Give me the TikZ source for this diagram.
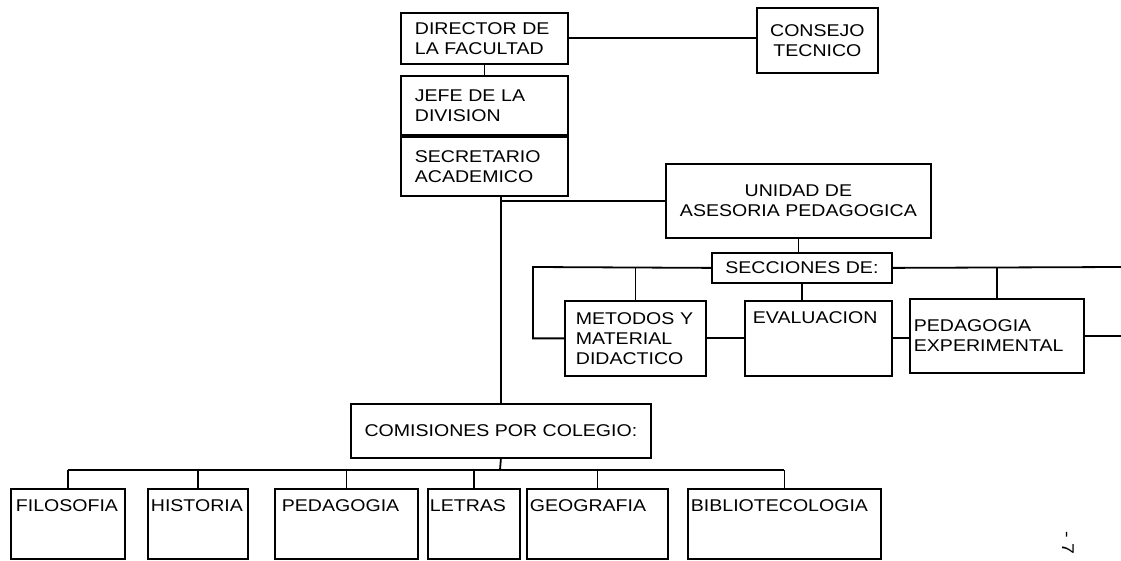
\documentclass[tikz,border=0pt]{standalone}
\usepackage{fontspec}
\setmainfont{Liberation Sans}[FakeStretch=1.15]

\begin{document}
\begin{tikzpicture}[x=0.5pt, y=-0.5pt, line width=0.9pt,
    box/.style={draw, anchor=north west, inner ysep=1pt, font=\fontsize{8.5}{10}\selectfont},
    lbox/.style={box, align=left},
    cbox/.style={box, align=center},
    tbox/.style={box, align=left, inner ysep=5pt, text height=6.5pt, text depth=18.5pt}]
          \useasboundingbox (0,0) rectangle (1121,561);
          % direccion
          \node (dir) [lbox, inner xsep=7pt, text width=69.5pt, minimum height=25.5pt] at (400,12) {DIRECTOR DE\\LA FACULTAD};
          \node (jefe) [lbox, inner xsep=7pt, text width=69.5pt, minimum height=29.5pt] at (400,75) {JEFE DE LA\\DIVISION};
          \node (sec) [lbox, inner xsep=7pt, text width=69.5pt, minimum height=29.5pt] at (jefe.south west) {SECRETARIO\\ACADEMICO};
          \node (cons) [cbox, minimum width=60.5pt, minimum height=32.5pt] at (756,7) {CONSEJO\\TECNICO};
          % unidad y secciones
          \node (uni) [cbox, minimum width=132.5pt, minimum height=37pt] at (665,163) {UNIDAD DE\\ASESORIA PEDAGOGICA};
          \node (secc) [cbox, inner ysep=0pt, minimum width=90pt, minimum height=15pt] at (711,252) {SECCIONES DE:};
          \node (met) [lbox, inner xsep=5.5pt, text width=59.5pt, minimum height=37.5pt] at (564,300) {METODOS Y\\MATERIAL\\DIDACTICO};
          \node (eva) [tbox, inner xsep=4pt, text width=65.5pt, text depth=21pt] at (744,300) {EVALUACION};
          \node (ped) [lbox, inner xsep=2pt, text width=83pt, minimum height=37pt] at (909,298) {PEDAGOGIA\\EXPERIMENTAL};
          % comisiones
          \node (com) [cbox, minimum width=150pt, minimum height=27pt] at (350,403) {COMISIONES POR COLEGIO:};
          \node (fil) [tbox, inner xsep=2.5pt, text width=52pt] at (10,488) {FILOSOFIA};
          \node (his) [tbox, inner xsep=1.5pt, text width=47pt] at (147,488) {HISTORIA};
          \node (peda) [tbox, inner xsep=3.5pt, text width=64.5pt] at (274,488) {PEDAGOGIA};
          \node (let) [tbox, inner xsep=1pt, text width=44pt] at (427,488) {LETRAS};
          \node (geo) [tbox, inner xsep=1.5pt, text width=67.5pt] at (526,488) {GEOGRAFIA};
          \node (bib) [tbox, inner xsep=1.5pt, text width=93.5pt] at (687,488) {BIBLIOTECOLOGIA};
          \node (pg) [rotate=-90, font=\fontsize{8.5}{10}\selectfont] at (1068,543) {- 7};
          \coordinate (sl) at (533,267);
          \coordinate (sr) at (1121,267);
          \coordinate (bus) at (500,470);
          \draw (dir.east) -- (dir.east -| cons.west);
          \draw (dir.south) -- (jefe.north);
          \draw (sec.south -| com.north) -- (com.north);
          \draw (uni.west -| com.north) -- (uni.west);
          \draw (uni.south) -- (uni.south |- secc.north);
          \draw (secc.west) -- (sl) |- (met.west);
          \draw (met.north) -- (met.north |- sl);
          \draw (secc.east) -- (sr);
          \draw (ped.north) -- (ped.north |- sr);
          \draw (secc.south) -- (secc.south |- eva.north);
          \draw (met.east) -- (eva.west);
          \draw (eva.east) -- (eva.east -| ped.west);
          \draw (ped.east) -- (ped.east -| sr);
          \draw (com.south) -- (bus);
          \draw (fil.north |- bus) -- (bib.north |- bus);
          \foreach \b in {fil,his,peda,let,geo,bib}
              \draw (\b.north) -- (\b.north |- bus);
      \end{tikzpicture}
\end{document}
